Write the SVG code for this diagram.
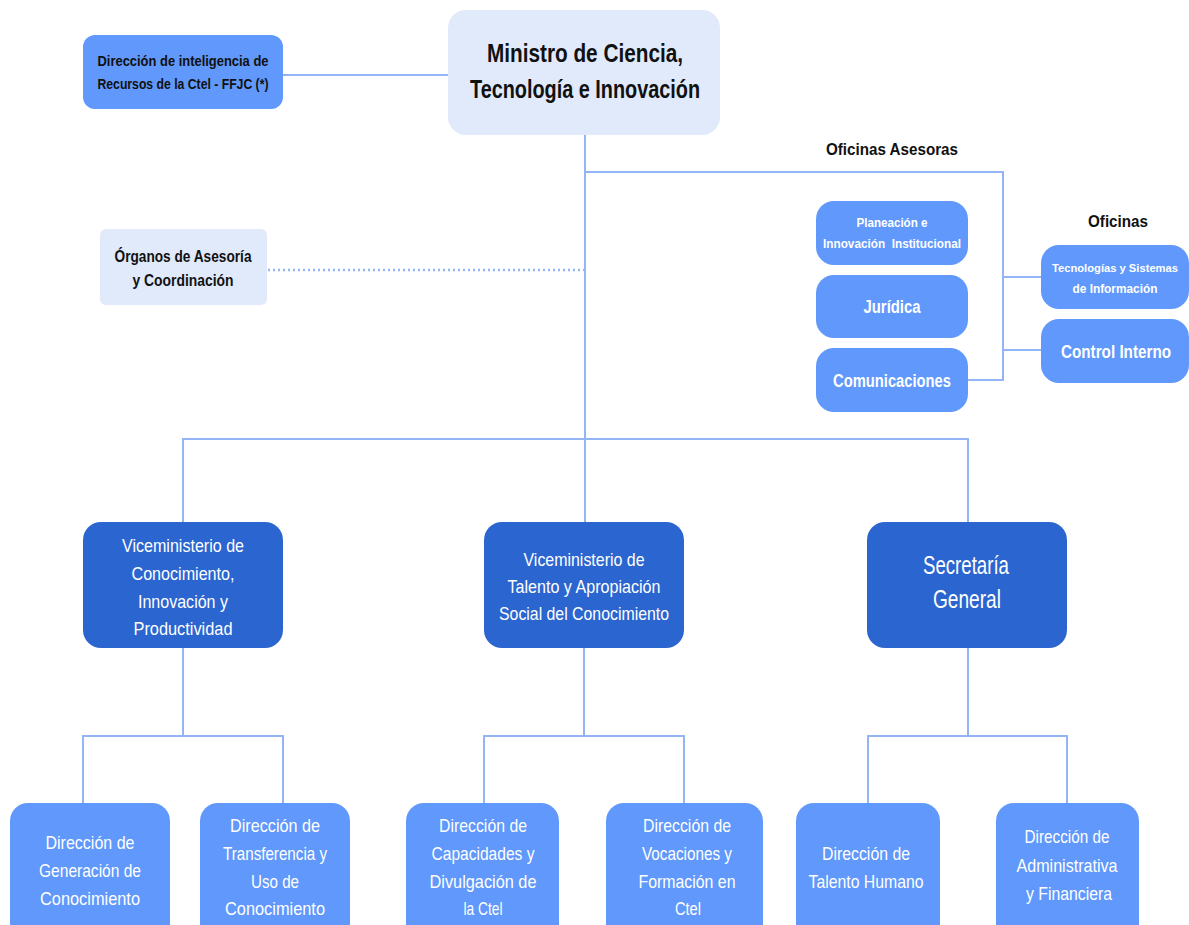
<svg xmlns="http://www.w3.org/2000/svg" width="1189" height="925" viewBox="0 0 1189 925">
<defs>
<style>
.ln{fill:none;stroke:#93b5f6;stroke-width:2}
.dot{fill:none;stroke:#93b5f6;stroke-width:2.5;stroke-dasharray:2 3}
.light{fill:#e0eafb}
.mid{fill:#6098fb}
.dark{fill:#2b65d0}
text{font-family:"Liberation Sans","Open Sans",sans-serif;text-anchor:middle}
.tb{font-weight:bold;fill:#111}
.tw{font-weight:bold;fill:#fff}
.tr{fill:#fff}
</style>
</defs>
<rect width="1189" height="925" fill="#fff"/>
<g id="connectors">
<line class="ln" x1="283" y1="75" x2="448" y2="75"/>
<line class="dot" x1="268" y1="270" x2="584" y2="270"/>
<polyline class="ln" points="585,135 585,440"/>
<polyline class="ln" points="585,172 1003,172 1003,380 968,380"/>
<line class="ln" x1="1003" y1="277" x2="1041" y2="277"/>
<line class="ln" x1="1003" y1="350" x2="1041" y2="350"/>
<polyline class="ln" points="183,522 183,439 968,439 968,522"/>
<line class="ln" x1="585" y1="440" x2="585" y2="522"/>
<polyline class="ln" points="183,648 183,736"/>
<polyline class="ln" points="83,803 83,736 283,736 283,803"/>
<polyline class="ln" points="584,648 584,736"/>
<polyline class="ln" points="484,803 484,736 684,736 684,803"/>
<polyline class="ln" points="968,648 968,736"/>
<polyline class="ln" points="868,803 868,736 1067,736 1067,803"/>
</g>
<g id="ministro">
<rect class="light" x="448" y="10" width="272" height="125" rx="18"/>
<text class="tb" x="585" y="62" font-size="25" textLength="196" lengthAdjust="spacingAndGlyphs">Ministro de Ciencia,</text>
<text class="tb" x="585" y="98" font-size="25" textLength="230" lengthAdjust="spacingAndGlyphs">Tecnología e Innovación</text>
</g>
<g id="direccion-inteligencia">
<rect class="mid" x="83" y="35" width="200" height="74" rx="12"/>
<text class="tb" x="183" y="66" font-size="15" textLength="171" lengthAdjust="spacingAndGlyphs">Dirección de inteligencia de</text>
<text class="tb" x="183" y="89" font-size="15" textLength="171" lengthAdjust="spacingAndGlyphs">Recursos de la Ctel - FFJC (*)</text>
</g>
<g id="organos">
<rect class="light" x="100" y="229" width="167" height="76" rx="6"/>
<text class="tb" x="183" y="262" font-size="17" textLength="137" lengthAdjust="spacingAndGlyphs">Órganos de Asesoría</text>
<text class="tb" x="183" y="286" font-size="17" textLength="101" lengthAdjust="spacingAndGlyphs">y Coordinación</text>
</g>
<g id="label-oficinas-asesoras">
<text class="tb" x="892" y="155" font-size="17" textLength="132" lengthAdjust="spacingAndGlyphs">Oficinas Asesoras</text>
</g>
<g id="label-oficinas">
<text class="tb" x="1118" y="227" font-size="17" textLength="60" lengthAdjust="spacingAndGlyphs">Oficinas</text>
</g>
<g id="planeacion">
<rect class="mid" x="816" y="201" width="152" height="64" rx="18"/>
<text class="tw" x="892" y="227" font-size="13" textLength="71" lengthAdjust="spacingAndGlyphs">Planeación e</text>
<text class="tw" x="892" y="248" font-size="13" textLength="138" lengthAdjust="spacingAndGlyphs" xml:space="preserve">Innovación  Institucional</text>
</g>
<g id="juridica">
<rect class="mid" x="816" y="275" width="152" height="63" rx="18"/>
<text class="tw" x="892" y="313" font-size="18" textLength="57" lengthAdjust="spacingAndGlyphs">Jurídica</text>
</g>
<g id="comunicaciones">
<rect class="mid" x="816" y="348" width="152" height="64" rx="18"/>
<text class="tw" x="892" y="387" font-size="18" textLength="118" lengthAdjust="spacingAndGlyphs">Comunicaciones</text>
</g>
<g id="tecnologias">
<rect class="mid" x="1041" y="245" width="148" height="64" rx="18"/>
<text class="tw" x="1115" y="272" font-size="11.5" textLength="126" lengthAdjust="spacingAndGlyphs">Tecnologías y Sistemas</text>
<text class="tw" x="1115" y="293" font-size="12" textLength="85" lengthAdjust="spacingAndGlyphs">de Información</text>
</g>
<g id="control-interno">
<rect class="mid" x="1041" y="319" width="148" height="64" rx="18"/>
<text class="tw" x="1116" y="358" font-size="18" textLength="110" lengthAdjust="spacingAndGlyphs">Control Interno</text>
</g>
<g id="vm-conocimiento">
<rect class="dark" x="83" y="522" width="200" height="126" rx="18"/>
<text class="tr" x="183" y="552" font-size="19" textLength="122" lengthAdjust="spacingAndGlyphs">Viceministerio de</text>
<text class="tr" x="183" y="580" font-size="19" textLength="103" lengthAdjust="spacingAndGlyphs">Conocimiento,</text>
<text class="tr" x="183" y="608" font-size="19" textLength="90" lengthAdjust="spacingAndGlyphs">Innovación y</text>
<text class="tr" x="183" y="635" font-size="19" textLength="99" lengthAdjust="spacingAndGlyphs">Productividad</text>
</g>
<g id="vm-talento">
<rect class="dark" x="484" y="522" width="200" height="126" rx="18"/>
<text class="tr" x="584" y="566" font-size="19" textLength="121" lengthAdjust="spacingAndGlyphs">Viceministerio de</text>
<text class="tr" x="584" y="593" font-size="19" textLength="153" lengthAdjust="spacingAndGlyphs">Talento y Apropiación</text>
<text class="tr" x="584" y="620" font-size="19" textLength="170" lengthAdjust="spacingAndGlyphs">Social del Conocimiento</text>
</g>
<g id="secretaria">
<rect class="dark" x="867" y="522" width="200" height="126" rx="18"/>
<text class="tr" x="966" y="574" font-size="25" textLength="86" lengthAdjust="spacingAndGlyphs">Secretaría</text>
<text class="tr" x="967" y="608" font-size="25" textLength="68" lengthAdjust="spacingAndGlyphs">General</text>
</g>
<g id="dir-generacion">
<rect class="mid" x="10" y="803" width="160" height="142" rx="18"/>
<text class="tr" x="90" y="849" font-size="19" textLength="89" lengthAdjust="spacingAndGlyphs">Dirección de</text>
<text class="tr" x="90" y="877" font-size="19" textLength="102" lengthAdjust="spacingAndGlyphs">Generación de</text>
<text class="tr" x="90" y="905" font-size="19" textLength="100" lengthAdjust="spacingAndGlyphs">Conocimiento</text>
</g>
<g id="dir-transferencia">
<rect class="mid" x="200" y="803" width="150" height="142" rx="18"/>
<text class="tr" x="275" y="832" font-size="19" textLength="90" lengthAdjust="spacingAndGlyphs">Dirección de</text>
<text class="tr" x="275" y="860" font-size="19" textLength="104" lengthAdjust="spacingAndGlyphs">Transferencia y</text>
<text class="tr" x="275" y="888" font-size="19" textLength="48" lengthAdjust="spacingAndGlyphs">Uso de</text>
<text class="tr" x="275" y="915" font-size="19" textLength="100" lengthAdjust="spacingAndGlyphs">Conocimiento</text>
</g>
<g id="dir-capacidades">
<rect class="mid" x="406" y="803" width="153" height="142" rx="18"/>
<text class="tr" x="483" y="832" font-size="19" textLength="88" lengthAdjust="spacingAndGlyphs">Dirección de</text>
<text class="tr" x="483" y="860" font-size="19" textLength="103" lengthAdjust="spacingAndGlyphs">Capacidades y</text>
<text class="tr" x="483" y="888" font-size="19" textLength="107" lengthAdjust="spacingAndGlyphs">Divulgación de</text>
<text class="tr" x="483" y="915" font-size="19" textLength="39" lengthAdjust="spacingAndGlyphs">la Ctel</text>
</g>
<g id="dir-vocaciones">
<rect class="mid" x="606" y="803" width="157" height="142" rx="18"/>
<text class="tr" x="687" y="832" font-size="19" textLength="88" lengthAdjust="spacingAndGlyphs">Dirección de</text>
<text class="tr" x="687" y="860" font-size="19" textLength="90" lengthAdjust="spacingAndGlyphs">Vocaciones y</text>
<text class="tr" x="687" y="888" font-size="19" textLength="97" lengthAdjust="spacingAndGlyphs">Formación en</text>
<text class="tr" x="688" y="915" font-size="19" textLength="26" lengthAdjust="spacingAndGlyphs">Ctel</text>
</g>
<g id="dir-talento-humano">
<rect class="mid" x="796" y="803" width="144" height="142" rx="18"/>
<text class="tr" x="866" y="860" font-size="19" textLength="88" lengthAdjust="spacingAndGlyphs">Dirección de</text>
<text class="tr" x="866" y="888" font-size="19" textLength="115" lengthAdjust="spacingAndGlyphs">Talento Humano</text>
</g>
<g id="dir-administrativa">
<rect class="mid" x="996" y="803" width="143" height="142" rx="18"/>
<text class="tr" x="1067" y="843" font-size="19" textLength="85" lengthAdjust="spacingAndGlyphs">Dirección de</text>
<text class="tr" x="1067" y="872" font-size="19" textLength="101" lengthAdjust="spacingAndGlyphs">Administrativa</text>
<text class="tr" x="1069" y="900" font-size="19" textLength="86" lengthAdjust="spacingAndGlyphs">y Financiera</text>
</g>
</svg>
